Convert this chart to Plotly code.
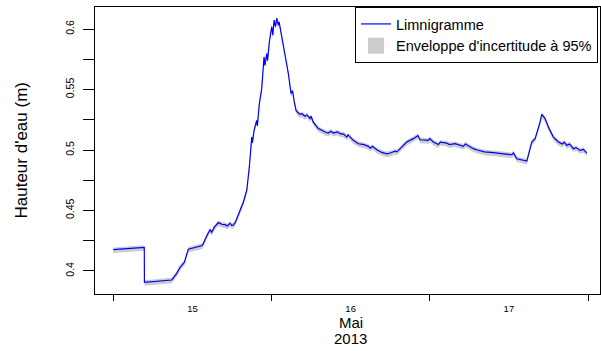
import pandas as pd
import plotly.graph_objects as go

# Heures écoulées depuis le 15 mai 2013 00:00
heures = [0.00, 4.70, 4.72, 8.86, 9.62, 10.12, 10.77, 11.38, 13.50, 13.81, 14.32, 14.67, 14.93,
          15.30, 15.93, 16.50, 16.95, 17.30, 17.70, 18.00, 18.20, 18.50, 18.96, 19.72, 20.24,
          20.63, 21.00, 21.10, 21.35, 21.75, 21.85, 22.15, 22.51, 22.86, 23.00, 23.27, 23.40,
          23.67, 24.03, 24.20, 24.38, 24.60, 24.79, 25.03, 25.15, 25.29, 25.70, 26.05, 26.55,
          26.96, 27.20, 27.41, 27.72, 28.00, 28.32, 28.60, 29.08, 29.40, 29.84, 30.00, 30.34,
          31.10, 31.50, 32.12, 32.60, 33.00, 33.38, 34.00, 34.39, 35.00, 35.41, 35.60, 36.41,
          37.17, 38.00, 38.69, 39.00, 39.30, 39.96, 40.72, 41.48, 42.00, 42.74, 43.00, 43.50,
          44.51, 45.51, 45.80, 46.03, 46.20, 46.53, 47.79, 48.00, 48.55, 49.30, 49.60, 50.58,
          51.00, 51.84, 52.40, 53.10, 53.40, 54.61, 55.20, 55.89, 56.30, 57.65, 59.00, 60.44,
          60.70, 61.20, 62.72, 63.47, 63.98, 64.32, 64.73, 64.99, 65.49, 65.99, 66.75, 67.51,
          68.10, 68.40, 68.79, 69.20, 69.79, 70.20, 70.80, 71.30, 71.82]

hauteur = [0.4176, 0.4195, 0.3905, 0.3925, 0.3980, 0.4030, 0.4070, 0.4180, 0.4210, 0.4250, 0.4306, 0.4340, 0.4320,
           0.4360, 0.4400, 0.4385, 0.4383, 0.4372, 0.4394, 0.4375, 0.4380, 0.4400, 0.4458, 0.4568, 0.4665,
           0.4858, 0.5107, 0.5060, 0.5163, 0.5245, 0.5200, 0.5384, 0.5508, 0.5770, 0.5700, 0.5798, 0.5740,
           0.5895, 0.6020, 0.5950, 0.6075, 0.6020, 0.6090, 0.6033, 0.6060, 0.6020, 0.5895, 0.5770, 0.5633,
           0.5467, 0.5490, 0.5410, 0.5328, 0.5310, 0.5295, 0.5300, 0.5279, 0.5290, 0.5260, 0.5280, 0.5231,
           0.5177, 0.5165, 0.5149, 0.5140, 0.5155, 0.5140, 0.5150, 0.5135, 0.5130, 0.5107, 0.5125, 0.5080,
           0.5052, 0.5045, 0.5030, 0.5015, 0.5030, 0.5002, 0.4980, 0.4969, 0.4975, 0.4991, 0.4985, 0.5011,
           0.5066, 0.5094, 0.5105, 0.5107, 0.5120, 0.5085, 0.5080, 0.5095, 0.5066, 0.5045, 0.5065, 0.5057,
           0.5045, 0.5052, 0.5045, 0.5030, 0.5050, 0.5011, 0.5000, 0.4991, 0.4985, 0.4978, 0.4970, 0.4961,
           0.4975, 0.4928, 0.4908, 0.5066, 0.5094, 0.5149, 0.5231, 0.5295, 0.5260, 0.5190, 0.5107, 0.5066,
           0.5050, 0.5065, 0.5038, 0.5050, 0.5011, 0.5020, 0.4997, 0.5005, 0.4975]

# Ecarts de l'enveloppe d'incertitude à 95% (m)
ecart_bas = 0.0028
ecart_haut = 0.0018

jours_ticks = ["2013-05-15", "2013-05-16", "2013-05-17", "2013-05-18"]
jours_labels = ["15", "16", "17"]
y_labels = ["0.4", "0.45", "0.5", "0.55", "0.6"]
y_vals = [0.40, 0.45, 0.50, 0.55, 0.60]
y_minor = [0.425, 0.475, 0.525, 0.575]

debut = pd.Timestamp("2013-05-15 00:00")
dates = debut + pd.to_timedelta(heures, unit="h")
bas = [v - ecart_bas for v in hauteur]
haut = [v + ecart_haut for v in hauteur]

FONT = "Liberation Sans, Arial, sans-serif"
GRIS = "rgb(204,204,204)"

fig = go.Figure()
fig.add_trace(go.Scatter(x=dates, y=bas, mode="lines", line=dict(width=0, color="rgba(0,0,0,0)"),
                         showlegend=False, hoverinfo="skip"))
fig.add_trace(go.Scatter(x=dates, y=haut, mode="lines", line=dict(width=0, color="rgba(0,0,0,0)"),
                         fill="tonexty", fillcolor=GRIS, showlegend=False,
                         name="Enveloppe d'incertitude à 95%"))
fig.add_trace(go.Scatter(x=dates, y=hauteur, mode="lines", line=dict(width=1.2, color="#0000ff"),
                         name="Limnigramme", legendrank=1))
# entrée de légende (carré gris) pour l'enveloppe
fig.add_trace(go.Scatter(x=[None], y=[None], mode="markers",
                         marker=dict(symbol="square", size=16, color=GRIS, line=dict(width=0)),
                         name="Enveloppe d'incertitude à 95%", legendrank=2))

noon = [pd.Timestamp(d) + pd.Timedelta(hours=12) for d in jours_ticks[:3]]
x0 = debut - pd.Timedelta(hours=2.776)
x1 = debut + pd.Timedelta(hours=73.82)

fig.update_layout(
    width=601, height=351,
    margin=dict(l=95, r=1, t=7, b=57, autoexpand=False),
    paper_bgcolor="white", plot_bgcolor="white",
    font=dict(family=FONT, color="black"),
    showlegend=True,
    legend=dict(x=(355 - 95) / 505, y=1, xanchor="left", yanchor="top", traceorder="normal",
                bordercolor="black", borderwidth=1, bgcolor="white",
                font=dict(size=14.5, family=FONT)),
    xaxis=dict(type="date", range=[x0, x1], showline=True, mirror=True, linecolor="black", linewidth=1,
               showgrid=False, zeroline=False,
               tickmode="array", tickvals=noon, ticktext=jours_labels,
               ticks="outside", ticklen=6, tickcolor="rgba(0,0,0,0)",
               tickfont=dict(size=9.5, family=FONT),
               minor=dict(tickmode="array", tickvals=[pd.Timestamp(d) for d in jours_ticks],
                          ticks="outside", ticklen=6, tickcolor="black", tickwidth=1, showgrid=False)),
    yaxis=dict(range=[0.3809, 0.6183], showline=True, mirror=True, linecolor="black", linewidth=1,
               showgrid=False, zeroline=False,
               tickmode="array", tickvals=y_vals, ticktext=y_labels, tickangle=-90,
               ticks="outside", ticklen=11, tickcolor="black", tickwidth=1, ticklabelstandoff=5,
               tickfont=dict(size=10.5, family=FONT),
               minor=dict(tickmode="array", tickvals=y_minor, ticks="outside", ticklen=11,
                          tickcolor="black", tickwidth=1, showgrid=False)),
    annotations=[
        dict(text="Mai", xref="paper", yref="paper", x=(350.7 - 95) / 505, y=(294 - 322) / 287,
             xanchor="center", yanchor="middle", showarrow=False, font=dict(size=15, family=FONT)),
        dict(text="2013", xref="paper", yref="paper", x=(350.7 - 95) / 505, y=(294 - 338) / 287,
             xanchor="center", yanchor="middle", showarrow=False, font=dict(size=15, family=FONT)),
        dict(text="Hauteur d'eau (m)", xref="paper", yref="paper", x=(20.5 - 95) / 505, y=(294 - 151) / 287,
             xanchor="center", yanchor="middle", textangle=-90, showarrow=False,
             font=dict(size=17, family=FONT)),
    ],
)

fig.write_html("out.html", config={"displayModeBar": False},
               post_script="document.body.style.margin='0';")
